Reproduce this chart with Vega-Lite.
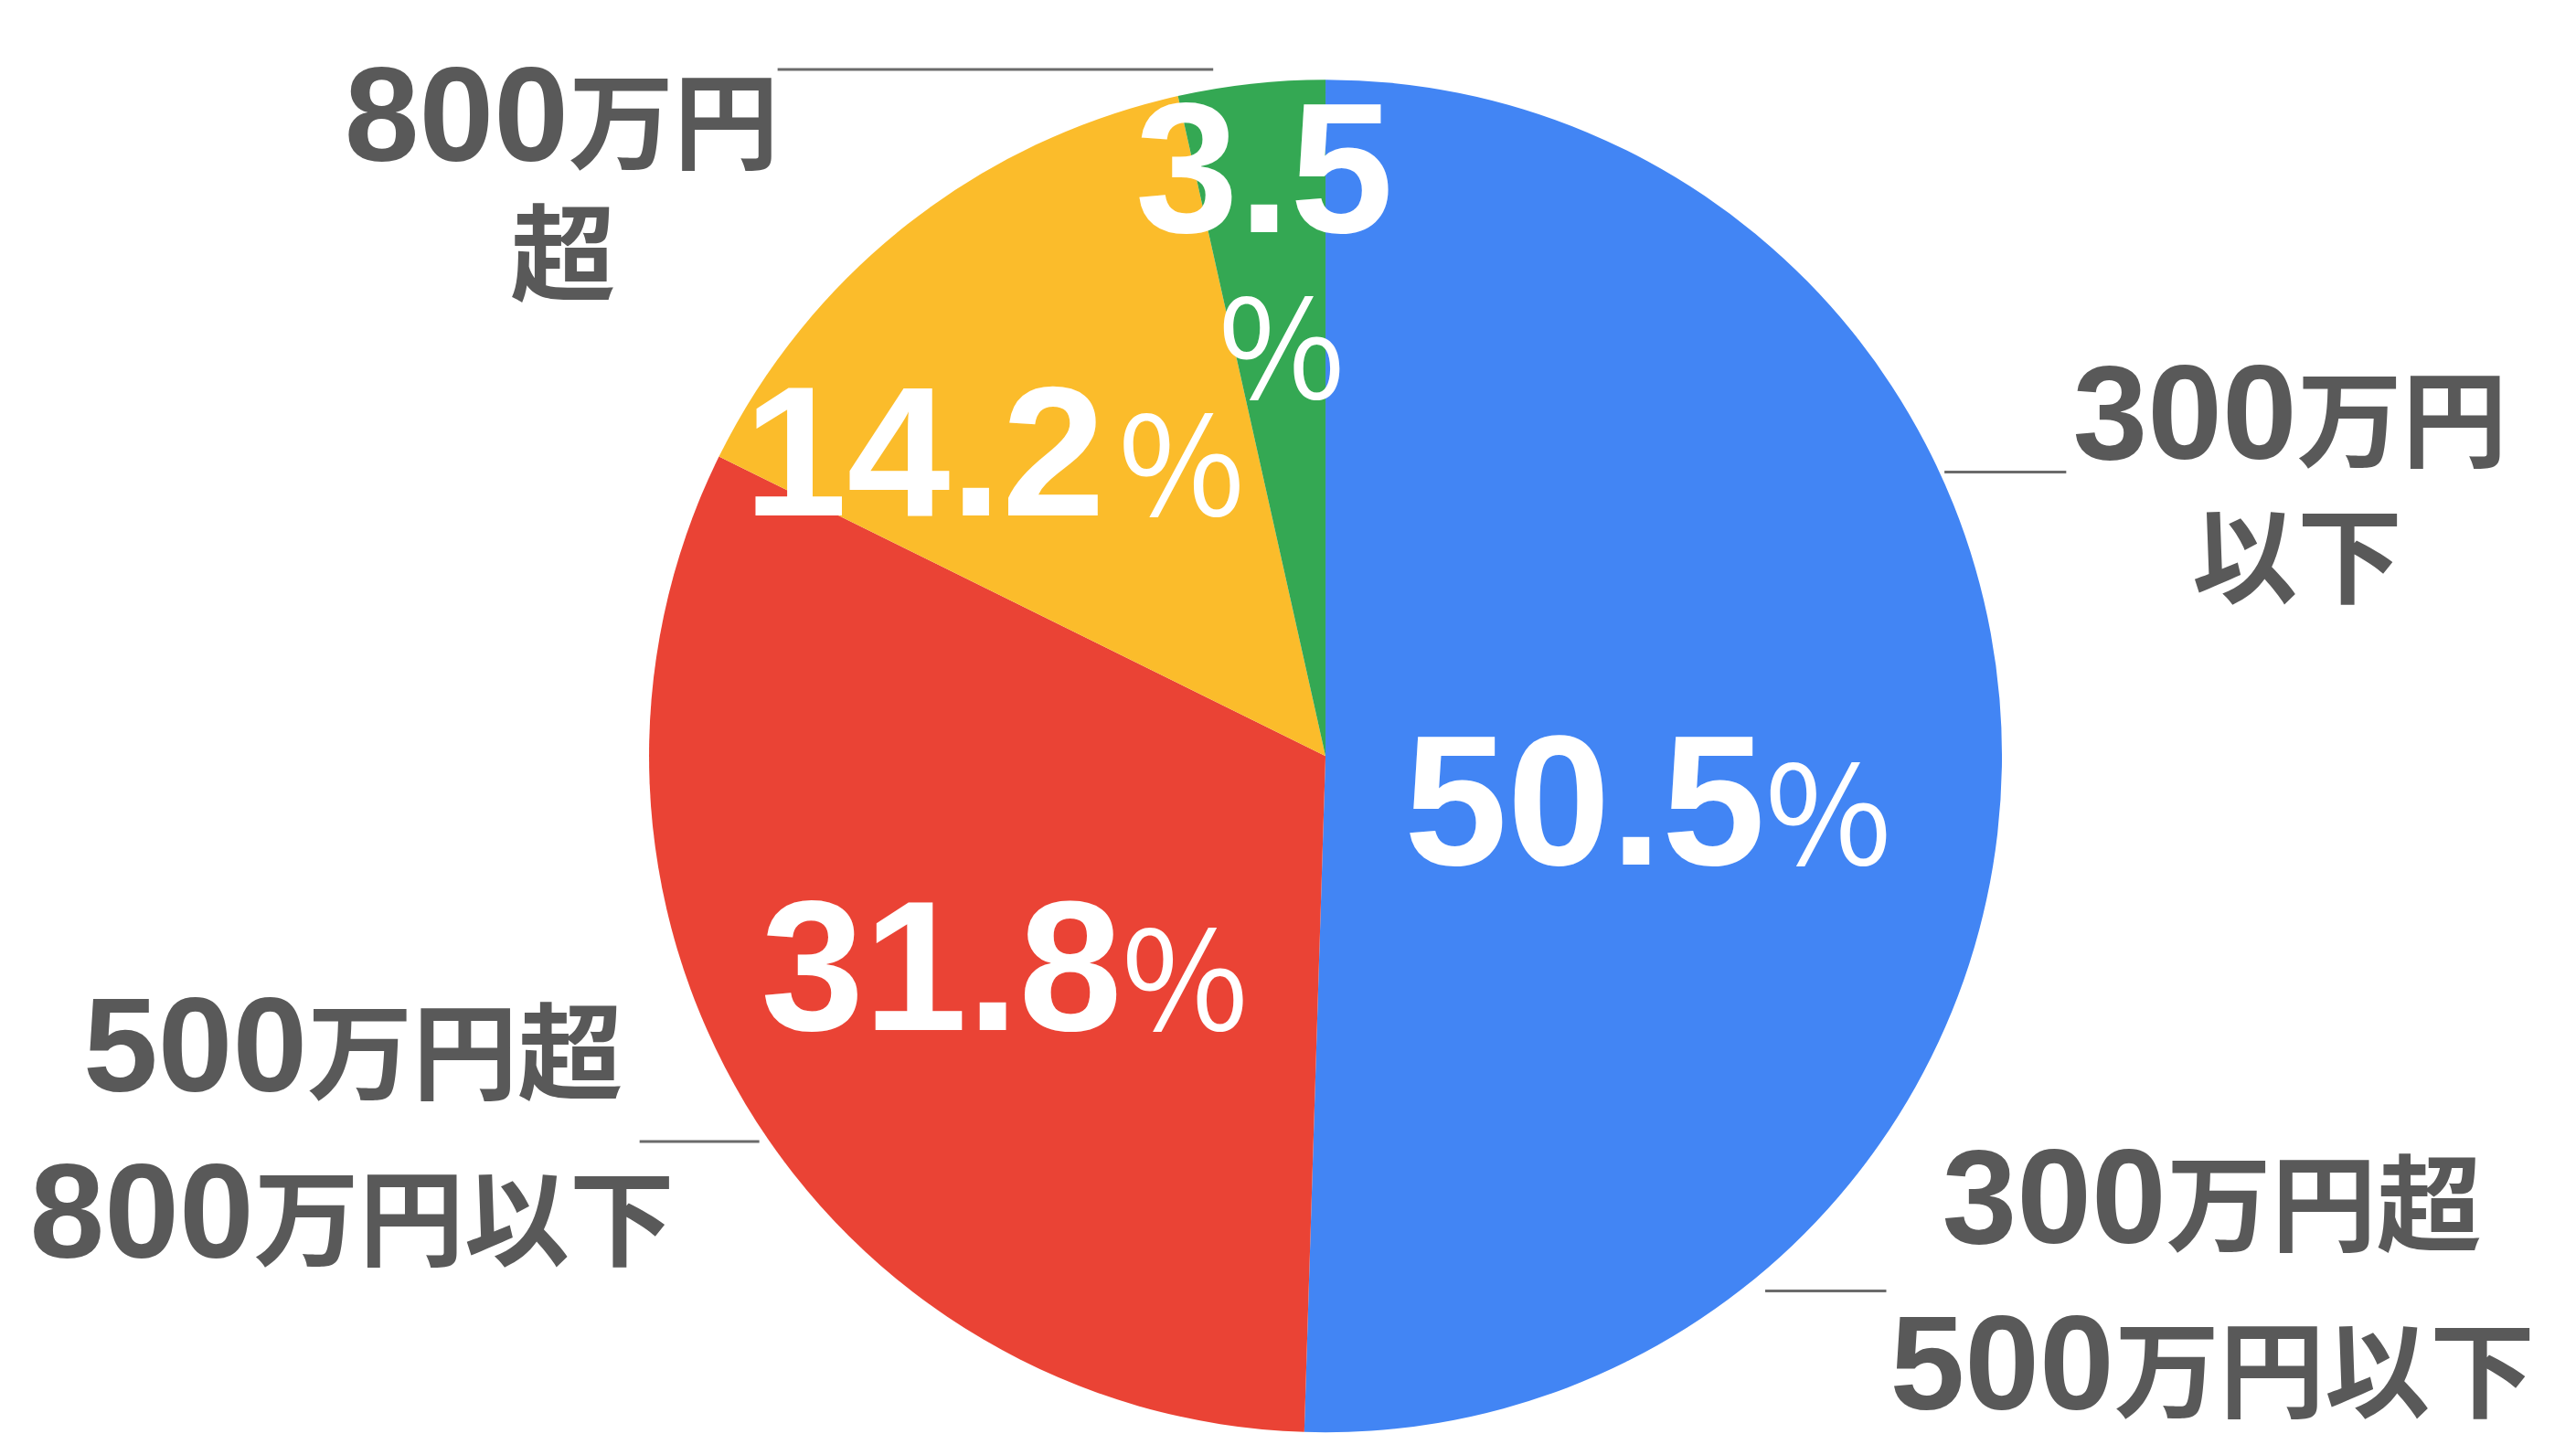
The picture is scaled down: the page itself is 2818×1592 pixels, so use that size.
{
  "$schema": "https://vega.github.io/schema/vega-lite/v6.json",
  "width": 2818,
  "height": 1592,
  "autosize": {"type": "fit", "contains": "padding"},
  "padding": 0,
  "background": "white",
  "config": {"view": {"stroke": null}},
  "datasets": {
    "slices": [
      {"category": "300万円超500万円以下", "share": 50.5, "rank": 1},
      {"category": "500万円超800万円以下", "share": 31.8, "rank": 2},
      {"category": "800万円超", "share": 14.2, "rank": 3},
      {"category": "300万円以下", "share": 3.5, "rank": 4}
    ],
    "pct": [
      {"num": "50.5", "x": 65.0, "y": 16.0},
      {"num": "31.8", "x": -30.1, "y": 40.5},
      {"num": "14.2", "x": -32.6, "y": -35.6},
      {"num": "3.5", "x": 10.0, "y": -77.4}
    ],
    "signs": [
      {"sign": "%", "x": 65.0, "y": 16.0},
      {"sign": "%", "x": -30.1, "y": 40.5},
      {"sign": "%", "x": -30.6, "y": -35.6},
      {"sign": "%", "x": -15.8, "y": -52.8}
    ],
    "labels": [
      {"num": "800", "kanji": "万円", "x": -111.9, "y": -88.0},
      {"num": "", "kanji": "超", "x": -120.5, "y": -68.6},
      {"num": "300", "kanji": "万円", "x": 143.6, "y": -44.0},
      {"num": "", "kanji": "以下", "x": 128.1, "y": -23.8},
      {"num": "500", "kanji": "万円超", "x": -150.5, "y": 49.6},
      {"num": "800", "kanji": "万円以下", "x": -158.4, "y": 74.2},
      {"num": "300", "kanji": "万円超", "x": 124.3, "y": 72.0},
      {"num": "500", "kanji": "万円以下", "x": 116.6, "y": 96.6}
    ],
    "leaders": [
      {"x1": -81.0, "x2": -16.6, "y": -101.5},
      {"x1": 91.5, "x2": 109.5, "y": -42.0},
      {"x1": -101.4, "x2": -83.7, "y": 57.0},
      {"x1": 65.0, "x2": 82.9, "y": 79.1}
    ]
  },
  "layer": [
    {
      "data": {"name": "slices"},
      "mark": {"type": "arc", "outerRadius": 740},
      "encoding": {
        "theta": {"field": "share", "type": "quantitative", "stack": true},
        "order": {"field": "rank", "type": "quantitative"},
        "color": {
          "field": "category",
          "type": "nominal",
          "scale": {
            "domain": ["300万円超500万円以下", "500万円超800万円以下", "800万円超", "300万円以下"],
            "range": ["#4285F4", "#EA4335", "#FBBC2B", "#34A853"]
          },
          "legend": null
        },
        "x": {"datum": 0, "type": "quantitative", "scale": {"domain": [-195.95, 184.86], "nice": false, "zero": false}, "axis": null},
        "y": {"datum": 0, "type": "quantitative", "scale": {"domain": [-111.78, 103.35], "reverse": true, "nice": false, "zero": false}, "axis": null}
      }
    },
    {
      "data": {"name": "leaders"},
      "mark": {"type": "rule", "color": "#6b6b6b", "strokeWidth": 3},
      "encoding": {
        "x": {"field": "x1", "type": "quantitative", "scale": {"domain": [-195.95, 184.86], "nice": false, "zero": false}, "axis": null},
        "x2": {"field": "x2"},
        "y": {"field": "y", "type": "quantitative", "scale": {"domain": [-111.78, 103.35], "reverse": true, "nice": false, "zero": false}, "axis": null}
      }
    },
    {
      "data": {"name": "pct"},
      "mark": {"type": "text", "align": "right", "baseline": "alphabetic", "font": "Liberation Sans", "fontWeight": "bold", "fontSize": 203, "color": "white"},
      "encoding": {
        "text": {"field": "num"},
        "x": {"field": "x", "type": "quantitative", "scale": {"domain": [-195.95, 184.86], "nice": false, "zero": false}, "axis": null},
        "y": {"field": "y", "type": "quantitative", "scale": {"domain": [-111.78, 103.35], "reverse": true, "nice": false, "zero": false}, "axis": null}
      }
    },
    {
      "data": {"name": "signs"},
      "mark": {"type": "text", "align": "left", "baseline": "alphabetic", "font": "Noto Sans CJK JP", "fontWeight": "normal", "fontSize": 150, "color": "white"},
      "encoding": {
        "text": {"field": "sign"},
        "x": {"field": "x", "type": "quantitative", "scale": {"domain": [-195.95, 184.86], "nice": false, "zero": false}, "axis": null},
        "y": {"field": "y", "type": "quantitative", "scale": {"domain": [-111.78, 103.35], "reverse": true, "nice": false, "zero": false}, "axis": null}
      }
    },
    {
      "data": {"name": "labels"},
      "mark": {"type": "text", "align": "right", "baseline": "alphabetic", "font": "Liberation Sans", "fontWeight": "bold", "fontSize": 147, "color": "#595959"},
      "encoding": {
        "text": {"field": "num"},
        "x": {"field": "x", "type": "quantitative", "scale": {"domain": [-195.95, 184.86], "nice": false, "zero": false}, "axis": null},
        "y": {"field": "y", "type": "quantitative", "scale": {"domain": [-111.78, 103.35], "reverse": true, "nice": false, "zero": false}, "axis": null}
      }
    },
    {
      "data": {"name": "labels"},
      "mark": {"type": "text", "align": "left", "baseline": "alphabetic", "font": "Noto Sans CJK JP", "fontWeight": "bold", "fontSize": 115, "color": "#595959"},
      "encoding": {
        "text": {"field": "kanji"},
        "x": {"field": "x", "type": "quantitative", "scale": {"domain": [-195.95, 184.86], "nice": false, "zero": false}, "axis": null},
        "y": {"field": "y", "type": "quantitative", "scale": {"domain": [-111.78, 103.35], "reverse": true, "nice": false, "zero": false}, "axis": null}
      }
    }
  ]
}
